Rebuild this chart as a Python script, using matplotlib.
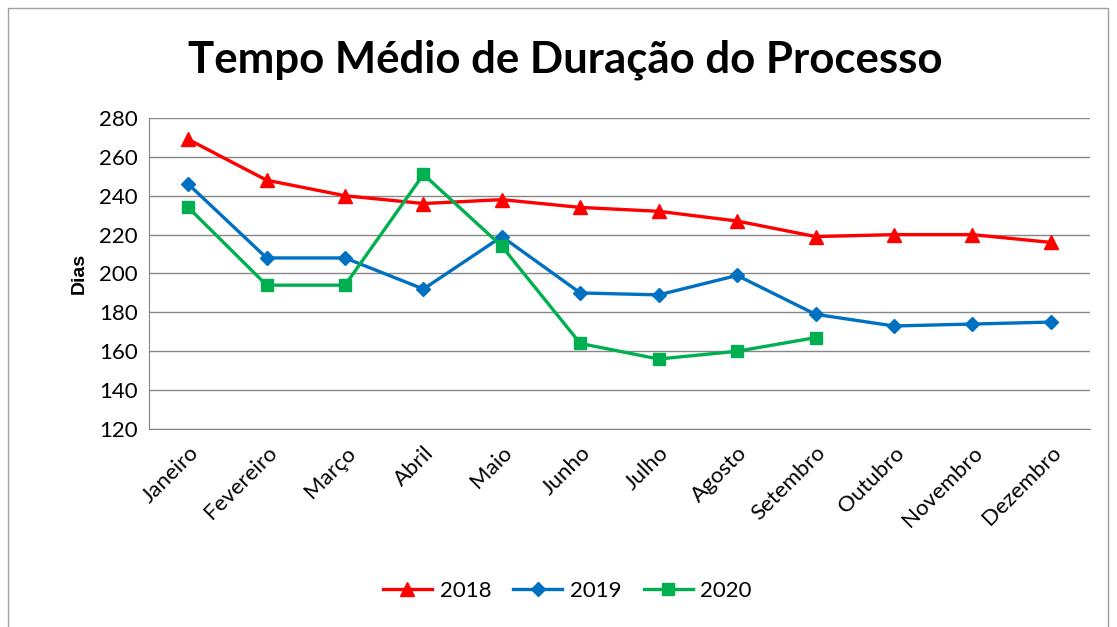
import matplotlib
matplotlib.use('Agg')
import matplotlib.pyplot as plt
from matplotlib.patches import Rectangle

meses = ['Janeiro', 'Fevereiro', 'Março', 'Abril', 'Maio', 'Junho',
         'Julho', 'Agosto', 'Setembro', 'Outubro', 'Novembro', 'Dezembro']
dias_2018 = [269, 248, 240, 236, 238, 234, 232, 227, 219, 220, 220, 216]
dias_2019 = [246, 208, 208, 192, 219, 190, 189, 199, 179, 173, 174, 175]
dias_2020 = [234, 194, 194, 251, 214, 164, 156, 160, 167]
y_ticks = [120, 140, 160, 180, 200, 220, 240, 260, 280]

plt.rcParams['font.family'] = ['Lato', 'DejaVu Sans']

fig = plt.figure(figsize=(11.17, 6.27), dpi=100)
ax = fig.add_axes([0.1334, 0.3158, 0.8424, 0.496])

# moldura do grafico
fig.patches.append(Rectangle((0.007, -0.01), 0.985, 0.997, transform=fig.transFigure,
                             fill=False, edgecolor='#a0a0a0', linewidth=1))

x = list(range(len(meses)))
ax.plot(x, dias_2018, color='#ff0000', marker='^', markersize=10, linewidth=2.4, label='2018')
ax.plot(x, dias_2019, color='#0070c0', marker='D', markersize=7, linewidth=2.4, label='2019')
ax.plot(x[:len(dias_2020)], dias_2020, color='#00b050', marker='s', markersize=9, linewidth=2.4, label='2020')

ax.set_xlim(-0.5, 11.5)
ax.set_ylim(120, 280)
ax.set_yticks(y_ticks)
ax.set_xticks(x)
ax.set_xticklabels(meses, rotation=45, ha='right', rotation_mode='anchor', fontsize=16)
ax.tick_params(axis='y', labelsize=16, length=0, pad=8)
ax.tick_params(axis='x', length=0, pad=10)
ax.grid(axis='y', color='#868686', linewidth=1)
ax.set_axisbelow(True)
for s in ['top', 'right']:
    ax.spines[s].set_visible(False)
ax.spines['left'].set_color('#868686')
ax.spines['bottom'].set_color('#868686')

ax.set_ylabel('Dias', fontsize=14, fontweight='bold', family='Liberation Sans', labelpad=8)
fig.text(0.506, 0.905, 'Tempo Médio de Duração do Processo', ha='center', va='center',
         fontsize=31.5, fontweight='bold')

fig.legend(loc='center', bbox_to_anchor=(0.508, 0.057), ncol=3, frameon=False,
           fontsize=16, handlelength=2.2, columnspacing=1.0, handletextpad=0.35)

fig.savefig('out.png', dpi=100)
